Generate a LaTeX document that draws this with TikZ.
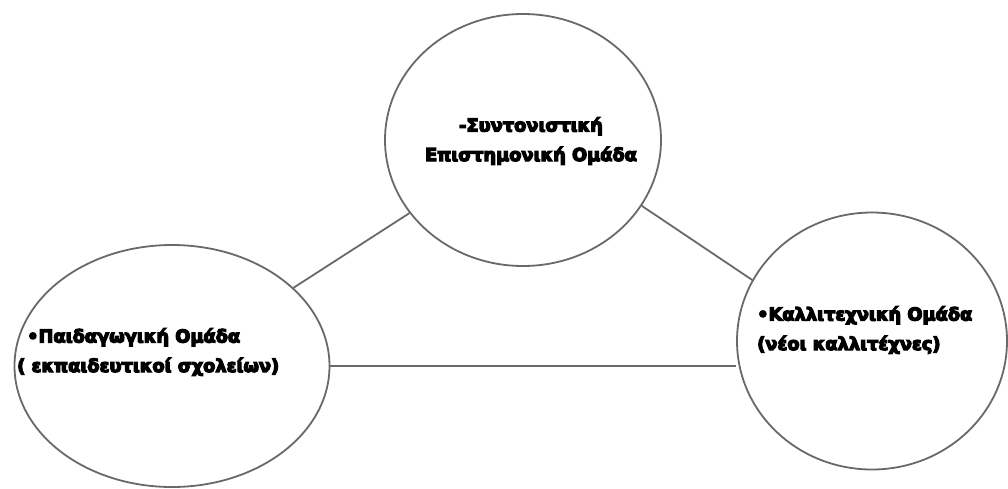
\documentclass[tikz,border=0pt]{standalone}
\usepackage{fontspec}
\setmainfont{DejaVu Sans}
\newfontfamily\heavyfont[RawFeature={embolden=7}]{DejaVu Sans Bold}
\usetikzlibrary{shapes.geometric}
\definecolor{edgegray}{RGB}{105,105,105}
\begin{document}
\begin{tikzpicture}[x=1pt,y=-1pt,
  group/.style={ellipse, draw=edgegray, line width=1.8pt, inner sep=0pt, fill=white},
  link/.style={draw=edgegray, line width=1.8pt},
  label/.style={font=\heavyfont\fontsize{17.8}{29.5}\selectfont, inner sep=0pt}]
  \useasboundingbox (0,0) rectangle (1008,488);
  % the three groups
  \node[group, minimum width=276pt, minimum height=252pt] (top) at (523,140) {};
  \node[group, minimum width=315pt, minimum height=242pt] (left) at (172,366) {};
  \node[group, minimum width=270pt, minimum height=257pt] (right) at (872,341) {};
  % connections between the groups
  \draw[link] (left) -- (top);
  \draw[link] (top.-29) -- (right.153);
  \draw[link] (left.east) -- (right.west |- left.east);
  % group names
  \node[label, align=center] (toptext) at (531,141) {-Συντονιστική\\Επιστημονική Ομάδα};
  \node[label, align=left, anchor=west] (lefttext) at (17,352) {\hspace*{10pt}•Παιδαγωγική  Ομάδα\\( εκπαιδευτικοί σχολείων)};
  \node[label, align=left, anchor=west] (righttext) at (757,330) {•Καλλιτεχνική Ομάδα\\(νέοι καλλιτέχνες)};
\end{tikzpicture}
\end{document}
